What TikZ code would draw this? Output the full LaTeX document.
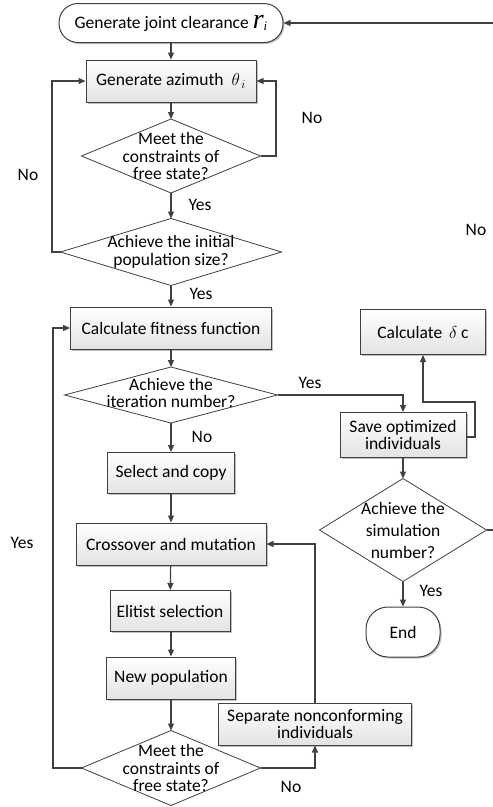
\documentclass[tikz,border=0pt]{standalone}
\usepackage{fontspec}
\setmainfont{Carlito}
\newfontfamily\serifit{Liberation Serif}
\usetikzlibrary{shapes.geometric,shadows,arrows.meta}
\definecolor{ln}{HTML}{404040}
\tikzset{
  base/.style={font=\fontsize{17.5}{17.5}\selectfont, align=center, inner sep=0pt},
  procbox/.style={base, draw=ln, line width=1pt, top color=white, bottom color=gray!22,
     drop shadow={shadow xshift=1.5pt, shadow yshift=-1.5pt, fill=black, opacity=0.25}},
  term/.style={base, draw=ln, line width=1pt, fill=white, rounded corners=19pt,
     drop shadow={shadow xshift=1.5pt, shadow yshift=-1.5pt, fill=black, opacity=0.25}},
  dia/.style={base, shape=diamond, draw=ln, line width=0.8pt, fill=white, inner sep=0pt, outer sep=0pt},
  dtext/.style={base},
  lab/.style={base},
  conn/.style={draw=ln, line width=1.2pt, -{Triangle[length=7pt,width=6pt]}},
  plain/.style={draw=ln, line width=1.2pt}
}
\begin{document}
\begin{tikzpicture}[x=1pt,y=-1pt]
\useasboundingbox (0,0) rectangle (493,807);
% start
\node[term, minimum width=224pt, minimum height=39pt] (start) at (171,23)
  {Generate joint clearance {\serifit\itshape\fontsize{28}{28}\selectfont r}{\serifit\itshape\fontsize{13}{13}\selectfont\raisebox{-2pt}{i}}};
\node[procbox, minimum width=170pt, minimum height=42pt] (azi) at (171,81)
  {Generate azimuth \ $\theta_{\,i}$};
\node[dia, minimum width=179pt, minimum height=74pt] (d1) at (171,156) {};
\node[dtext] at (171,156) {Meet the\\constraints of\\free state?};
\node[dia, minimum width=221pt, minimum height=67pt] (d2) at (171,252) {};
\node[dtext] at (171,252) {Achieve the initial\\population size?};
\node[procbox, minimum width=201pt, minimum height=42pt] (fit) at (171,328) {Calculate fitness function};
\node[dia, minimum width=213pt, minimum height=56pt] (d3) at (171,395) {};
\node[dtext] at (171,393) {Achieve the\\iteration number?};
\node[procbox, minimum width=127pt, minimum height=41pt] (sel) at (171,473) {Select and copy};
\node[procbox, minimum width=190pt, minimum height=42pt] (cro) at (171,544) {Crossover and mutation};
\node[procbox, minimum width=120pt, minimum height=41pt] (eli) at (170,611) {Elitist selection};
\node[procbox, minimum width=129pt, minimum height=42pt] (newp) at (171,678) {New population};
\node[dia, minimum width=179pt, minimum height=75pt] (d4) at (171,768) {};
\node[dtext] at (171,768) {Meet the\\constraints of\\free state?};
\node[procbox, minimum width=193pt, minimum height=42pt] (sep) at (315,724) {Separate nonconforming\\individuals};
% right column
\node[procbox, minimum width=125pt, minimum height=45pt] (cal) at (423,332) {Calculate $\,\delta$ c};
\node[procbox, minimum width=126pt, minimum height=45pt] (save) at (403,435) {Save optimized\\individuals};
\node[dia, minimum width=167pt, minimum height=103pt] (d5) at (403,530) {};
\node[dtext, font=\fontsize{17.5}{22}\selectfont] at (403,530) {Achieve the\\simulation\\number?};
\node[term, rounded corners=22pt, minimum width=74pt, minimum height=50pt] (end) at (403,632) {End};
% coordinates
\coordinate (topR) at (493,23);
\coordinate (d5R) at (493,530);
% connectors
\draw[conn] (topR) -- (start.east);
\draw[conn] (start) -- (azi);
\draw[conn] (azi) -- (d1);
\draw[conn] (d1.east) -- (276,156) -- (276,81) -- (azi.east);
\draw[conn] (d1) -- (d2);
\draw[conn] (d2.west) -- (52,252) -- (52,81) -- (azi.west);
\draw[conn] (d2) -- (fit);
\draw[conn] (fit) -- (d3);
\draw[conn] (d3.east) -- (403,395) -- (save.north);
\draw[conn] (d3) -- (sel);
\draw[conn] (sel) -- (cro);
\draw[conn] (cro) -- (eli);
\draw[conn] (eli.south -| newp.north) -- (newp);
\draw[conn] (newp) -- (d4);
\draw[conn] (d4.east) -- (315,768) -- (sep.south);
\draw[conn] (sep.north) -- (315,544) -- (cro.east);
\draw[conn] (d4.west) -- (53,768) -- (53,328) -- (fit.west);
\draw[conn] (save.east |- 0,437) -- (475,437) -- (475,402) -- (423,402) -- (cal.south);
\draw[conn] (save) -- (d5);
\draw[conn] (d5) -- (end);
\draw[plain] (d5.east) -- (d5R);
% labels
\node[lab] at (312,118) {No};
\node[lab] at (28,175) {No};
\node[lab] at (200,205) {Yes};
\node[lab] at (201,294) {Yes};
\node[lab] at (476,230) {No};
\node[lab] at (310,383) {Yes};
\node[lab] at (202,437) {No};
\node[lab] at (22,543) {Yes};
\node[lab] at (431,591) {Yes};
\node[lab] at (291,787) {No};
\end{tikzpicture}
\end{document}
